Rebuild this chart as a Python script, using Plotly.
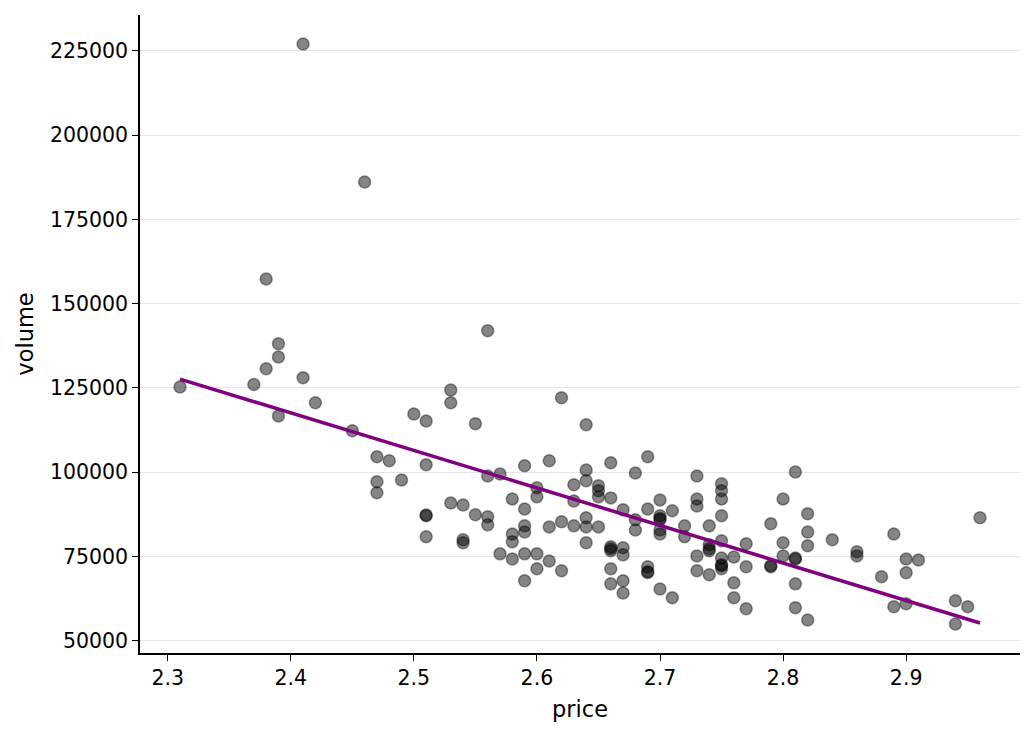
import numpy as np
import plotly.graph_objects as go

price = [2.31, 2.37, 2.38, 2.38, 2.39, 2.39, 2.39, 2.41, 2.41, 2.42,
         2.45, 2.46, 2.47, 2.47, 2.47, 2.48, 2.49, 2.50, 2.51, 2.51,
         2.51, 2.51, 2.51, 2.53, 2.53, 2.53, 2.54, 2.54, 2.54, 2.55,
         2.55, 2.56, 2.56, 2.56, 2.56, 2.57, 2.57, 2.58, 2.58, 2.58,
         2.58, 2.59, 2.59, 2.59, 2.59, 2.59, 2.59, 2.60, 2.60, 2.60,
         2.60, 2.61, 2.61, 2.61, 2.62, 2.62, 2.62, 2.63, 2.63, 2.63,
         2.64, 2.64, 2.64, 2.64, 2.64, 2.64, 2.65, 2.65, 2.65, 2.65,
         2.66, 2.66, 2.66, 2.66, 2.66, 2.66, 2.66, 2.67, 2.67, 2.67,
         2.67, 2.67, 2.68, 2.68, 2.68, 2.69, 2.69, 2.69, 2.69, 2.69,
         2.70, 2.70, 2.70, 2.70, 2.70, 2.70, 2.70, 2.71, 2.71, 2.72,
         2.72, 2.73, 2.73, 2.73, 2.73, 2.73, 2.74, 2.74, 2.74, 2.74,
         2.74, 2.75, 2.75, 2.75, 2.75, 2.75, 2.75, 2.75, 2.75, 2.75,
         2.76, 2.76, 2.76, 2.77, 2.77, 2.77, 2.79, 2.79, 2.79, 2.80,
         2.80, 2.80, 2.81, 2.81, 2.81, 2.81, 2.81, 2.82, 2.82, 2.82,
         2.82, 2.84, 2.86, 2.86, 2.88, 2.89, 2.89, 2.90, 2.90, 2.90,
         2.91, 2.94, 2.94, 2.95, 2.96]

volume = [125300, 126000, 157300, 130700, 138100, 134200, 116700, 227000, 128000, 120600,
          112300, 186100, 104600, 97200, 93900, 103400, 97700, 117300, 115200, 102200,
          87300, 87100, 80900, 124400, 120600, 90900, 90300, 80000, 79100, 114400,
          87400, 142000, 98900, 86800, 84400, 99500, 75800, 92100, 81700, 79400,
          74300, 101900, 89100, 84100, 82300, 75800, 67800, 95400, 92700, 75800,
          71400, 103400, 83800, 73700, 122100, 85300, 70800, 96300, 91500, 84100,
          114100, 100700, 97500, 86500, 83800, 79100, 96000, 94500, 92700, 83800,
          102800, 92400, 77900, 77300, 76700, 71400, 66900, 88900, 77600, 75500,
          67800, 64200, 99800, 85900, 82900, 104600, 89100, 72000, 70500, 70300,
          91800, 87100, 85900, 86300, 82900, 81700, 65400, 88600, 62800, 84100,
          80900, 98900, 92100, 90000, 75200, 70800, 84100, 78500, 77300, 76700,
          69600, 96600, 94500, 92100, 87100, 79700, 74600, 72300, 71400, 72600,
          74900, 67200, 62800, 78800, 72000, 59500, 84700, 72300, 72000, 92100,
          79100, 75200, 100100, 74600, 74300, 66900, 59800, 87700, 82300, 78200,
          56200, 80000, 76400, 75200, 69000, 81700, 60100, 74300, 70200, 61000,
          74000, 61900, 55000, 60100, 86500]

x = np.array(price)
y = np.array(volume)
slope, intercept = np.polyfit(x, y, 1)
xl = np.array([x.min(), x.max()])
yl = slope * xl + intercept

fig = go.Figure()
fig.add_trace(go.Scatter(
    x=price, y=volume, mode="markers",
    marker=dict(size=12, color="rgba(0,0,0,0.48)",
                line=dict(width=1.5, color="rgba(0,0,0,0.4)")),
    showlegend=False, hoverinfo="skip"))
fig.add_trace(go.Scatter(
    x=xl, y=yl, mode="lines",
    line=dict(color="#800080", width=3.5),
    showlegend=False))

font = "DejaVu Sans"
fig.update_layout(
    width=1036, height=734,
    margin=dict(l=140, r=16, t=15, b=81),
    plot_bgcolor="white", paper_bgcolor="white",
    font=dict(family=font, size=20.5, color="black"),
    xaxis=dict(
        range=[2.2775, 2.9925],
        tickvals=[2.3, 2.4, 2.5, 2.6, 2.7, 2.8, 2.9],
        ticktext=["2.3", "2.4", "2.5", "2.6", "2.7", "2.8", "2.9"],
        showgrid=False, zeroline=False,
        showline=True, linecolor="black", linewidth=1.5,
        ticks="outside", ticklen=6, tickwidth=1.3, tickcolor="black",
        title=dict(text="price", font=dict(size=22.5), standoff=12),
    ),
    yaxis=dict(
        range=[46400, 235600],
        tickvals=[50000, 75000, 100000, 125000, 150000, 175000, 200000, 225000],
        ticktext=["50000", "75000", "100000", "125000", "150000", "175000", "200000", "225000"],
        showgrid=True, gridcolor="#e5e5e5", gridwidth=1,
        zeroline=False,
        showline=True, linecolor="black", linewidth=1.5,
        ticks="outside", ticklen=6, tickwidth=1.3, tickcolor="black",
        title=dict(text="volume", font=dict(size=22.5), standoff=10),
    ),
)

fig.write_html("out.html")
